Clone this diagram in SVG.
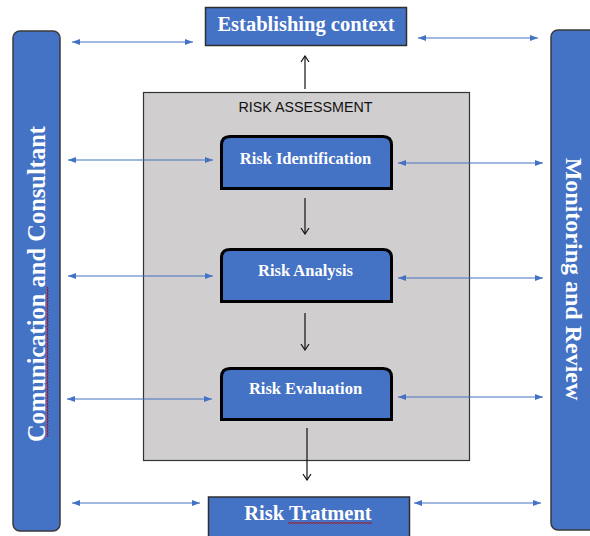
<svg xmlns="http://www.w3.org/2000/svg" width="590" height="536" viewBox="0 0 590 536">
  <style>
    .bar { fill: #4472C4; stroke: #3a3a3a; stroke-width: 1.5; }
    .head { fill: #4472C4; stroke: #2f2f2f; stroke-width: 1.5; }
    .step { fill: #4472C4; stroke: #000000; stroke-width: 3; }
    .panel { fill: #D0CECE; stroke: #333333; stroke-width: 1.2; }
    .title { font-family: "Liberation Serif", "Times New Roman", serif; font-weight: bold; fill: #ffffff; text-anchor: middle; }
    .caption { font-family: "Liberation Sans", Arial, sans-serif; font-size: 14px; fill: #111111; text-anchor: middle; }
    .link { stroke: #4472C4; stroke-width: 1.2; fill: none; marker-start: url(#blueHead); marker-end: url(#blueHead); }
    .flow { stroke: #111111; stroke-width: 1.2; fill: none; marker-end: url(#blackHead); }
    .squiggle { stroke: #C00000; stroke-width: 0.9; fill: none; }
  </style>
  <defs>
    <marker id="blueHead" viewBox="0 0 8 6" refX="8" refY="3" markerWidth="8" markerHeight="6" markerUnits="userSpaceOnUse" orient="auto-start-reverse">
      <path d="M0,0 L8,3 L0,6 Z" fill="#4472C4"/>
    </marker>
    <marker id="blackHead" viewBox="0 0 8 10" refX="7" refY="5" markerWidth="8" markerHeight="10" markerUnits="userSpaceOnUse" orient="auto">
      <path d="M1,1 L7,5 L1,9" fill="none" stroke="#111111" stroke-width="1.2"/>
    </marker>
  </defs>

  <rect width="590" height="536" fill="#ffffff"/>

  <!-- side bars -->
  <g id="communication">
    <rect class="bar" x="13" y="31" width="47" height="500" rx="7" ry="7"/>
    <text class="title" font-size="24.5" transform="translate(45,284) rotate(-90)">Comunication and Consultant</text>
    <path class="squiggle" d="M47,437 l1,-1.5 l-1,-1.5 l1,-1.5 l-1,-1.5 l1,-1.5 l-1,-1.5 l1,-1.5 l-1,-1.5 l1,-1.5 l-1,-1.5 l1,-1.5 l-1,-1.5 l1,-1.5 l-1,-1.5 l1,-1.5 l-1,-1.5 l1,-1.5 l-1,-1.5 l1,-1.5 l-1,-1.5 l1,-1.5 l-1,-1.5 l1,-1.5 l-1,-1.5 l1,-1.5 l-1,-1.5 l1,-1.5 l-1,-1.5 l1,-1.5 l-1,-1.5 l1,-1.5 l-1,-1.5 l1,-1.5 l-1,-1.5 l1,-1.5 l-1,-1.5 l1,-1.5 l-1,-1.5 l1,-1.5 l-1,-1.5 l1,-1.5 l-1,-1.5 l1,-1.5 l-1,-1.5 l1,-1.5 l-1,-1.5 l1,-1.5 l-1,-1.5 l1,-1.5 l-1,-1.5 l1,-1.5 l-1,-1.5 l1,-1.5 l-1,-1.5 l1,-1.5 l-1,-1.5 l1,-1.5 l-1,-1.5 l1,-1.5 l-1,-1.5 l1,-1.5 l-1,-1.5 l1,-1.5 l-1,-1.5 l1,-1.5 l-1,-1.5 l1,-1.5 l-1,-1.5 l1,-1.5 l-1,-1.5 l1,-1.5 l-1,-1.5 l1,-1.5 l-1,-1.5 l1,-1.5 l-1,-1.5 l1,-1.5 l-1,-1.5 l1,-1.5 l-1,-1.5 l1,-1.5 l-1,-1.5 l1,-1.5 l-1,-1.5 l1,-1.5 l-1,-1.5 l1,-1.5 l-1,-1.5 l1,-1.5 l-1,-1.5 l1,-1.5 l-1,-1.5 l1,-1.5 l-1,-1.5 l1,-1.5 l-1,-1.5 l1,-1.5 l-1,-1.5 l1,-1.5 l-1,-1.5"/>
  </g>
  <g id="monitoring">
    <rect class="bar" x="551" y="30" width="50" height="500" rx="7" ry="7"/>
    <text class="title" font-size="24" transform="translate(566,279) rotate(90)">Monitoring and Review</text>
  </g>

  <!-- top and bottom stages -->
  <g id="context">
    <rect class="head" x="205.5" y="7.5" width="201" height="38"/>
    <text class="title" font-size="20.5" x="306" y="31">Establishing context</text>
  </g>
  <g id="treatment">
    <rect class="head" x="208.5" y="497" width="201" height="45"/>
    <text class="title" font-size="20.5" x="308" y="520">Risk Tratment</text>
    <path class="squiggle" d="M288,523.5 l1.5,-1 l1.5,1 l1.5,-1 l1.5,1 l1.5,-1 l1.5,1 l1.5,-1 l1.5,1 l1.5,-1 l1.5,1 l1.5,-1 l1.5,1 l1.5,-1 l1.5,1 l1.5,-1 l1.5,1 l1.5,-1 l1.5,1 l1.5,-1 l1.5,1 l1.5,-1 l1.5,1 l1.5,-1 l1.5,1 l1.5,-1 l1.5,1 l1.5,-1 l1.5,1 l1.5,-1 l1.5,1 l1.5,-1 l1.5,1 l1.5,-1 l1.5,1 l1.5,-1 l1.5,1 l1.5,-1 l1.5,1 l1.5,-1 l1.5,1 l1.5,-1 l1.5,1 l1.5,-1 l1.5,1 l1.5,-1 l1.5,1 l1.5,-1 l1.5,1 l1.5,-1 l1.5,1 l1.5,-1 l1.5,1 l1.5,-1 l1.5,1 l1.5,-1 l1.5,1"/>
  </g>

  <!-- assessment panel with its three steps -->
  <g id="assessment">
    <rect class="panel" x="143.5" y="92.5" width="326" height="368"/>
    <text class="caption" x="305.5" y="112" textLength="134" lengthAdjust="spacingAndGlyphs">RISK ASSESSMENT</text>
  </g>
  <g id="identification">
    <path class="step" d="M221.5,188.5 V145 Q221.5,136.5 230,136.5 H383 Q391.5,136.5 391.5,145 V188.5 Z"/>
    <text class="title" font-size="16.5" x="305.5" y="164">Risk Identification</text>
  </g>
  <g id="analysis">
    <path class="step" d="M221.5,301.5 V258 Q221.5,249.5 230,249.5 H383 Q391.5,249.5 391.5,258 V301.5 Z"/>
    <text class="title" font-size="16.5" x="305.5" y="276">Risk Analysis</text>
  </g>
  <g id="evaluation">
    <path class="step" d="M221.5,419.5 V377 Q221.5,368.5 230,368.5 H383 Q391.5,368.5 391.5,377 V419.5 Z"/>
    <text class="title" font-size="16.5" x="305.5" y="394">Risk Evaluation</text>
  </g>

  <!-- connectors -->
  <g id="connectors">
    <line class="link" x1="72" y1="42" x2="193" y2="42"/>
    <line class="link" x1="418" y1="38" x2="538" y2="38"/>
    <line class="link" x1="68" y1="160" x2="213" y2="160"/>
    <line class="link" x1="398" y1="163" x2="543" y2="163"/>
    <line class="link" x1="68" y1="276" x2="213" y2="276"/>
    <line class="link" x1="398" y1="278" x2="543" y2="278"/>
    <line class="link" x1="67" y1="399" x2="212" y2="399"/>
    <line class="link" x1="398" y1="397" x2="543" y2="397"/>
    <line class="link" x1="72" y1="503" x2="200" y2="503"/>
    <line class="link" x1="414" y1="503" x2="541" y2="503"/>

    <line class="flow" x1="305" y1="89" x2="305" y2="56"/>
    <line class="flow" x1="305" y1="198" x2="305" y2="234"/>
    <line class="flow" x1="305" y1="313" x2="305" y2="350"/>
    <line class="flow" x1="307" y1="428" x2="307" y2="480"/>
  </g>
</svg>
